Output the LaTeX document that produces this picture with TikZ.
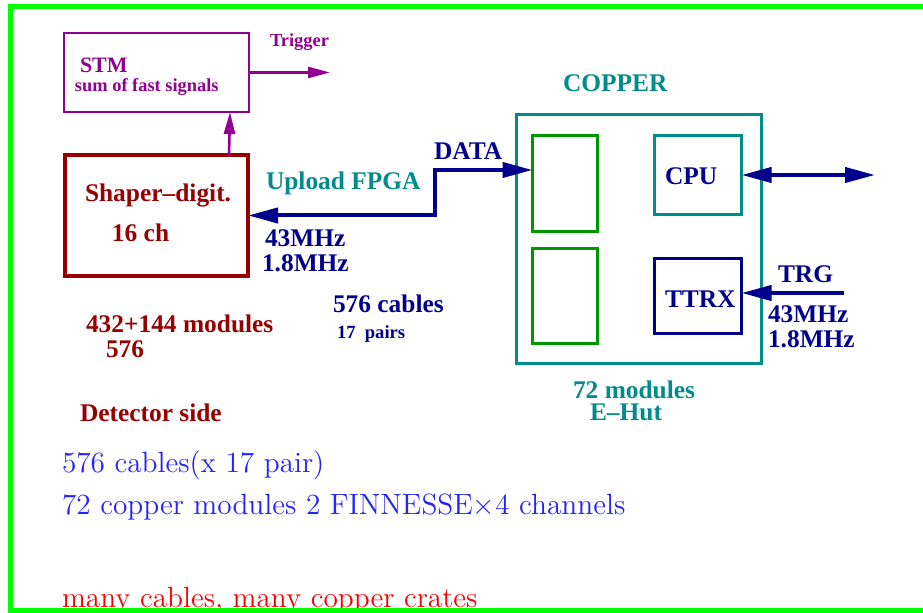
\documentclass[tikz,border=0pt]{standalone}
\usepackage{fontspec}
\newfontfamily\tms{Liberation Serif}
\usetikzlibrary{arrows.meta}
\definecolor{fgreen}{RGB}{0,255,0}
\definecolor{cpurple}{RGB}{145,0,145}
\definecolor{cdred}{RGB}{150,0,0}
\definecolor{cteal}{RGB}{0,140,140}
\definecolor{cdblue}{RGB}{0,0,140}
\definecolor{cgreen}{RGB}{0,150,0}
\definecolor{cblue}{RGB}{35,35,250}
\definecolor{cred}{RGB}{250,0,0}
\tikzset{
  lbl/.style={inner sep=0pt, outer sep=0pt, anchor=base west, font=\tms\bfseries\fontsize{12.7}{14}\selectfont},
  lblsmall/.style={lbl, font=\tms\bfseries\fontsize{9.2}{11}\selectfont},
  cmtext/.style={inner sep=0pt, outer sep=0pt, anchor=base west, font=\fontsize{14.65}{17}\selectfont, text=cblue},
  box/.style={draw, inner sep=0pt, outer sep=0pt, anchor=center},
  bluearrow/.style={draw=cdblue, line width=2pt, {Triangle[length=15pt,width=7.5pt]}-{Triangle[length=15pt,width=7.5pt]}},
  purplearrow/.style={draw=cpurple, line width=1.3pt, -{Triangle[length=11pt,width=5.5pt]}},
}
\begin{document}
\begin{tikzpicture}[x=0.5pt,y=-0.5pt]
\useasboundingbox (0,0) rectangle (923,613);
\fill[white] (0,0) rectangle (923,613);

% boxes
\node (stm) [box, draw=cpurple, line width=1pt, minimum width=92.5pt, minimum height=39.5pt] at (156.5,72.5) {};
\node (shaper) [box, draw=cdred, line width=2pt, minimum width=91.5pt, minimum height=60.5pt] at (156.5,215.5) {};
\node (copper) [box, draw=cteal, line width=1.5pt, minimum width=122.5pt, minimum height=124.5pt] at (639,239) {};
\node (g1) [box, draw=cgreen, line width=1.5pt, minimum width=32.5pt, minimum height=48pt] at (565,183.5) {};
\node (g2) [box, draw=cgreen, line width=1.5pt, minimum width=32.5pt, minimum height=47.5pt] at (565,296) {};
\node (cpu) [box, draw=cteal, line width=1.5pt, minimum width=43.5pt, minimum height=39.5pt] at (698,175) {};
\node (ttrx) [box, draw=cdblue, line width=1.5pt, minimum width=43.5pt, minimum height=37.5pt] at (698,296) {};

% free ends
\coordinate (trig) at (330,72.5);
\coordinate (kink) at (435,170);
\coordinate (cpuout) at (875,175);
\coordinate (trgin) at (844,293);

% connectors
\draw[purplearrow] (stm.east) -- (trig);
\draw[purplearrow] ([xshift=-9.5pt]shaper.north east) -- ([xshift=-9.5pt]stm.south east);
\draw[bluearrow] ([yshift=6.75pt]g1.west) -- (kink) |- (shaper.east);
\draw[bluearrow] (cpu.east) -- (cpuout);
\draw[draw=cdblue, line width=2pt, -{Triangle[length=15pt,width=7.5pt]}] (trgin) -- (trgin -| ttrx.east);

% labels
\node (tstm) [lbl, text=cpurple, font=\tms\bfseries\fontsize{11}{13}\selectfont] at (80,73) {STM};
\node (tsum) [lblsmall, text=cpurple] at (75,92) {sum of fast signals};
\node (ttrig) [lblsmall, text=cpurple] at (270,47) {Trigger};
\node (tshaper) [lbl, text=cdred] at (85,202) {Shaper–digit.};
\node (t16) [lbl, text=cdred] at (112,242) {16 ch};
\node (tupload) [lbl, text=cteal] at (266,190) {Upload FPGA};
\node (tdata) [lbl, text=cdblue] at (434,160) {DATA};
\node (tf1) [lbl, text=cdblue] at (265,247) {43MHz};
\node (tf2) [lbl, text=cdblue] at (262,272) {1.8MHz};
\node (tcopper) [lbl, text=cteal] at (563,92) {COPPER};
\node (tcpu) [lbl, text=cdblue] at (665,185) {CPU};
\node (tttrx) [lbl, text=cdblue] at (665,308) {TTRX};
\node (ttrg) [lbl, text=cdblue] at (778,283) {TRG};
\node (tf3) [lbl, text=cdblue] at (768,323) {43MHz};
\node (tf4) [lbl, text=cdblue] at (768,348) {1.8MHz};
\node (t72) [lbl, text=cteal] at (573,399) {72 modules};
\node (tehut) [lbl, text=cteal] at (590,421) {E–Hut};
\node (tcables) [lbl, text=cdblue] at (333,313) {576 cables};
\node (tpairs) [lblsmall, text=cdblue, font=\tms\bfseries\fontsize{9.3}{11}\selectfont] at (337,339) {17~~pairs};
\node (tmods) [lbl, text=cdred] at (86,333) {432+144 modules};
\node (t576) [lbl, text=cdred] at (106,358) {576};
\node (tdet) [lbl, text=cdred] at (80,422) {Detector side};

\node (c1) [cmtext] at (62,473) {576 cables(x 17 pair)};
\node (c2) [cmtext] at (62,515) {72 copper modules 2 FINNESSE$\times$4 channels};
\node (c3) [cmtext, text=cred] at (62,608) {many cables, many copper crates};

% green frame
\draw[fgreen, line width=2.5pt] (935,6.5) -- (10,6.5) -- (10,611) -- (935,611);
\end{tikzpicture}
\end{document}
